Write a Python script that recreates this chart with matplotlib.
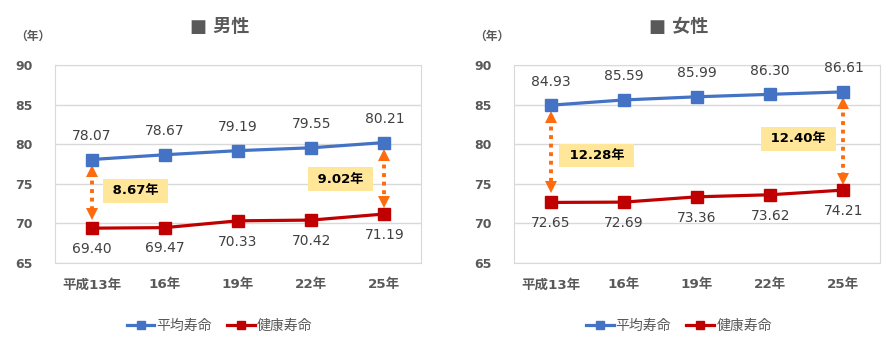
import matplotlib
matplotlib.use("Agg")
import matplotlib.pyplot as plt

# 数字はDejaVu、漢字はNoto Sans CJK JP
plt.rcParams['font.family'] = ['DejaVu Sans', 'Noto Sans CJK JP']

# データ
years = ['平成13年', '16年', '19年', '22年', '25年']
male_avg = [78.07, 78.67, 79.19, 79.55, 80.21]
male_health = [69.40, 69.47, 70.33, 70.42, 71.19]
female_avg = [84.93, 85.59, 85.99, 86.30, 86.61]
female_health = [72.65, 72.69, 73.36, 73.62, 74.21]
male_gaps = ['8.67年', '9.02年']
female_gaps = ['12.28年', '12.40年']

BLUE = '#4472C4'
RED = '#C00000'
ORANGE = '#FF6A0D'
GRAY = '#595959'
TXT = '#404040'

fig = plt.figure(figsize=(8.94, 3.47), dpi=100)


def draw(ax, avg, health, gaps, title, box_pos, arrow_off):
    x = list(range(len(years)))
    ax.plot(x, avg, color=BLUE, lw=2.3, marker='s', ms=8.5, label='平均寿命', zorder=3)
    ax.plot(x, health, color=RED, lw=2.3, marker='s', ms=8.5, label='健康寿命', zorder=3)
    ax.set_xlim(-0.5, len(years) - 0.5)
    ax.set_ylim(65, 90)
    ax.set_yticks(range(65, 91, 5))
    ax.set_xticks(x)
    ax.set_xticklabels(years)
    ax.tick_params(axis='both', length=0, colors=GRAY)
    ax.tick_params(axis='y', pad=16, labelsize=9)
    ax.tick_params(axis='x', pad=11, labelsize=9.7)
    for lab in ax.get_xticklabels() + ax.get_yticklabels():
        lab.set_fontweight('bold')
    ax.grid(axis='y', color='#D9D9D9', lw=1)
    ax.set_axisbelow(True)
    for s in ax.spines.values():
        s.set_color('#D9D9D9')

    for i in x:
        ax.annotate(f'{avg[i]:.2f}', (i, avg[i]), xytext=(0, 17), textcoords='offset points',
                    ha='center', va='center', fontsize=10, color=TXT)
        ax.annotate(f'{health[i]:.2f}', (i, health[i]), xytext=(0, -15), textcoords='offset points',
                    ha='center', va='center', fontsize=10, color=TXT)

    # 差の矢印
    for k, i in enumerate([0, len(x) - 1]):
        top = avg[i] - arrow_off[k][0]
        bot = health[i] + arrow_off[k][1]
        ax.plot([i, i], [top - 0.6, bot + 0.6], color=ORANGE, lw=2.8,
                ls=(0, (1, 1.2)), dash_capstyle='butt', zorder=2)
        ax.plot(i, top - 0.45, marker='^', ms=9, color=ORANGE, mew=0, zorder=2)
        ax.plot(i, bot + 0.45, marker='v', ms=9, color=ORANGE, mew=0, zorder=2)
        bx, by = box_pos[k]
        ax.text(bx, by, ' ' + gaps[k] + ' ', ha='center', va='center', fontsize=9.5,
                fontweight='bold', color='black',
                bbox=dict(boxstyle='square,pad=0.4', fc='#FFE699', ec='none'))

    ax.legend(loc='upper center', bbox_to_anchor=(0.45, -0.22), ncol=2, frameon=False,
              fontsize=10, handlelength=2.0, handletextpad=0.15, columnspacing=1.1,
              labelcolor=GRAY, markerscale=0.75)
    ax.text(0.45, 1.19, '■ ' + title, transform=ax.transAxes, ha='center', va='center',
            fontsize=13, fontweight='bold', color=GRAY)
    ax.text(-0.06, 1.145, '（年）', transform=ax.transAxes, ha='center', va='center',
            fontsize=8.5, color=GRAY, fontweight='bold')


ax1 = fig.add_axes([0.0615, 0.242, 0.4094, 0.5706])
draw(ax1, male_avg, male_health, male_gaps, '男性',
     [(0.6, 74.1), (3.4, 75.6)], [(1.0, 1.3), (1.1, 1.1)])

ax2 = fig.add_axes([0.575, 0.242, 0.4094, 0.5706])
draw(ax2, female_avg, female_health, female_gaps, '女性',
     [(0.63, 78.6), (3.38, 80.66)], [(1.0, 1.45), (0.9, 1.0)])

fig.savefig('out.png', dpi=100)
